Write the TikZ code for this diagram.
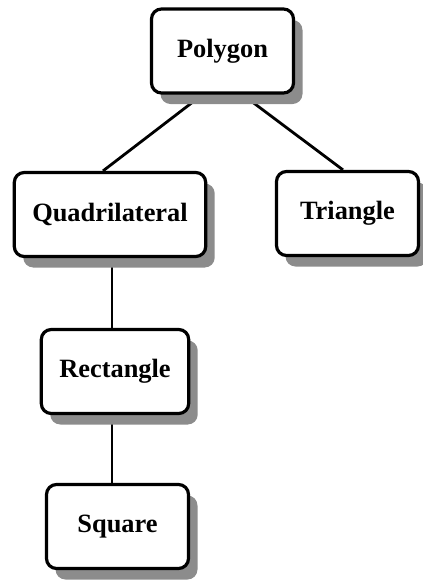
\documentclass[tikz,border=0pt]{standalone}
\usepackage{fontspec}
\setmainfont{Liberation Serif}
\usepackage{tikz}
\usetikzlibrary{shadows,backgrounds}
\tikzstyle{edge}=[line width=1.4pt]
\tikzstyle{box}=[rectangle, rounded corners=5pt, draw, fill=white,
                 line width=1.6pt, minimum width=71pt, minimum height=42pt,
                 inner xsep=9pt,
                 font=\fontsize{13.2}{15}\selectfont\bfseries,
                 drop shadow={shadow xshift=4.5pt, shadow yshift=-5.5pt,
                              fill=black!45, opacity=1}]

\begin{document}
\begin{tikzpicture}[x=0.5pt,y=-0.5pt]
   \useasboundingbox (0,0) rectangle (423,585);
   \node (poly) at (222.5,51)  [box]{Polygon};
   \node (quad) at (110,214.5) [box]{Quadrilateral};
   \node (tri)  at (347.5,213.5) [box]{Triangle};
   \node (rect) at (115,371.5) [box]{Rectangle};
   \node (sq)   at (117.5,526.5) [box]{Square};

   \begin{scope}[on background layer]
     \foreach \u/\du/\v/\dv in {poly/-10/quad/-3.5,poly/10/tri/-2.25,
                                quad/1/rect/-1.5,rect/-1.5/sq/-2.75}
       \draw [edge] ([xshift=\du pt]\u.south) to ([xshift=\dv pt]\v.north);
   \end{scope}
\end{tikzpicture}
\end{document}
